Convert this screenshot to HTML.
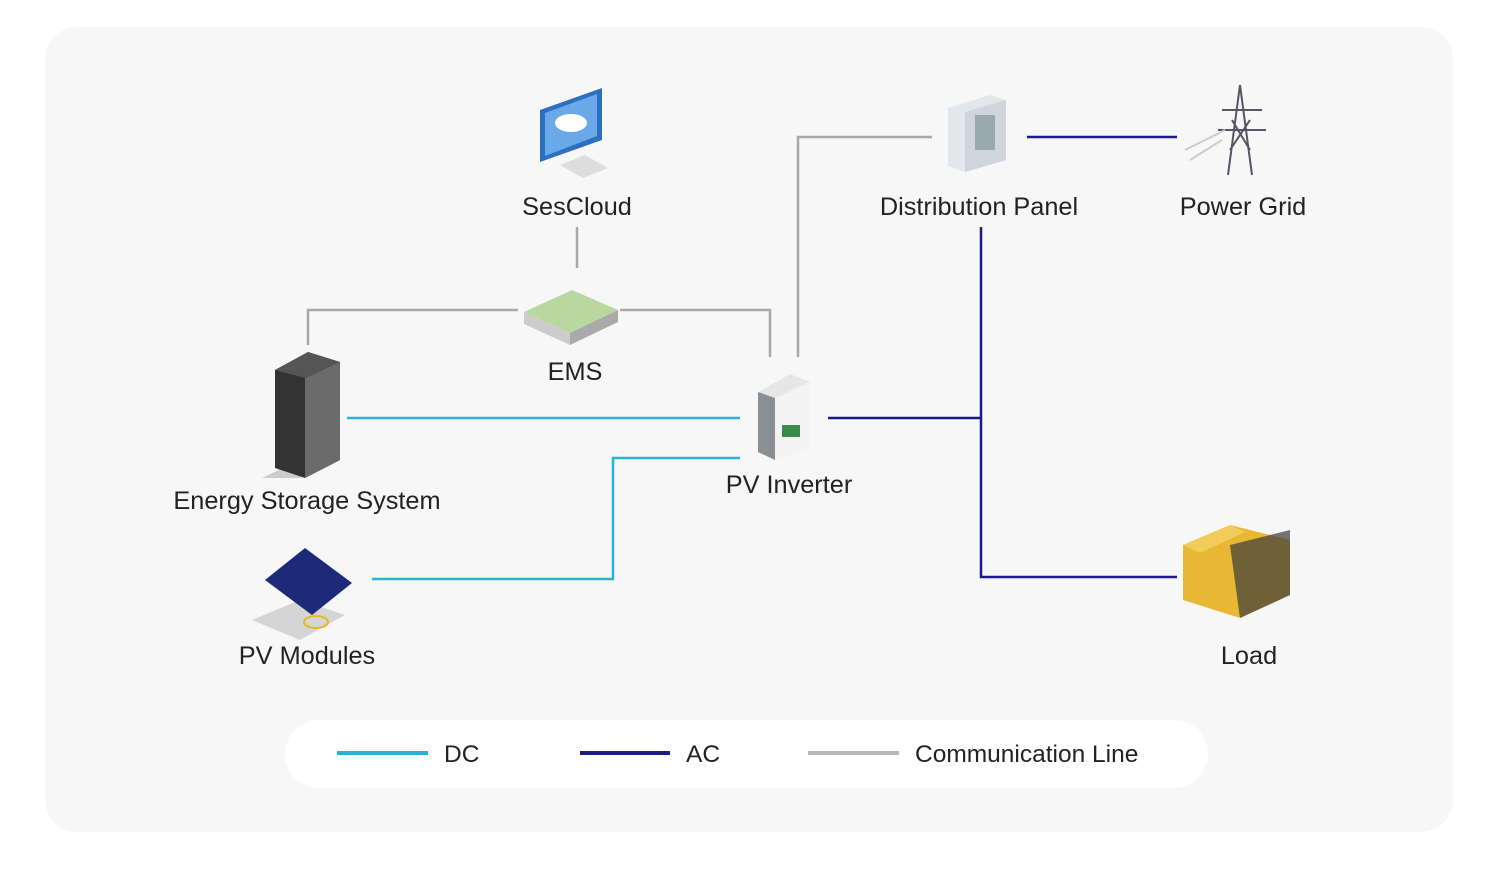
<!DOCTYPE html>
<html><head><meta charset="utf-8"><style>
body{margin:0;background:#fff;width:1500px;height:888px;overflow:hidden;font-family:"Liberation Sans",sans-serif}
svg text{font-family:"Liberation Sans",sans-serif;font-size:25.3px;fill:#222}
svg text.lg{font-size:24.5px}
</style></head><body>
<svg width="1500" height="888" viewBox="0 0 1500 888">
<rect x="45" y="27" width="1408" height="805" rx="32" fill="#f7f7f7"/>
<rect x="285" y="720" width="923" height="68" rx="34" fill="#fff"/>
<g fill="none" stroke-width="2.5">
<g stroke="#a8a8a8">
<path d="M577 227V268"/>
<path d="M518 310H308V345"/>
<path d="M620 310H770V357"/>
<path d="M932 137H798V357"/>
</g>
<g stroke="#1c1a8a">
<path d="M1027 137H1177"/>
<path d="M981 227V577H1177"/>
<path d="M828 418H981"/>
</g>
<g stroke="#2ab4d4">
<path d="M347 418H740"/>
<path d="M740 458H613V579H372"/>
</g>
<path d="M337 753H428" stroke="#2ab4d4" stroke-width="4"/>
<path d="M580 753H670" stroke="#1c1a8a" stroke-width="4"/>
<path d="M808 753H899" stroke="#b8b8b8" stroke-width="4"/>
</g>
<g>
<polygon points="540,110 602,88 602,140 540,162" fill="#2d6fc0"/>
<polygon points="545,113 597,94 597,136 545,156" fill="#6aa8e8"/>
<ellipse cx="571" cy="123" rx="16" ry="9" fill="#fff"/>
<polygon points="560,165 585,155 608,168 583,178" fill="#ddd"/>
</g>
<g>
<polygon points="524,312 572,290 618,310 570,333" fill="#b9d8a0"/>
<polygon points="524,312 570,333 570,345 524,324" fill="#ccc"/>
<polygon points="570,333 618,310 618,322 570,345" fill="#aaa"/>
</g>
<g>
<polygon points="948,108 990,95 1006,100 1006,160 965,172 948,166" fill="#e4e7ea"/>
<polygon points="965,112 1006,100 1006,160 965,172" fill="#cfd5da"/>
<rect x="975" y="115" width="20" height="35" fill="#9aa"/>
</g>
<g stroke="#556" stroke-width="2" fill="none">
<path d="M1240 85L1228 175M1240 85L1252 175M1222 110H1262M1218 130H1266M1230 150L1250 120M1232 120L1250 150"/>
<path d="M1185 150L1225 130M1190 160L1222 140" stroke="#ccc"/>
</g>
<g>
<polygon points="262,478 300,478 340,460 300,460" fill="#ccc"/>
<polygon points="275,370 308,352 340,362 340,460 305,478 275,468" fill="#333"/>
<polygon points="305,378 340,362 340,460 305,478" fill="#6b6b6b"/>
<polygon points="275,370 308,352 340,362 305,378" fill="#555"/>
</g>
<g>
<polygon points="758,392 790,374 810,382 810,448 775,460 758,452" fill="#e6e6e6"/>
<polygon points="775,398 810,382 810,448 775,460" fill="#f4f4f4"/>
<polygon points="758,392 775,398 775,460 758,452" fill="#8a8f94"/>
<rect x="782" y="425" width="18" height="12" fill="#3a8a4a"/>
</g>
<g>
<polygon points="252,620 300,600 345,615 300,640" fill="#d5d5d5"/>
<polygon points="265,580 305,548 352,583 312,615" fill="#1d2a7a"/>
<ellipse cx="316" cy="622" rx="12" ry="6" fill="none" stroke="#e8b820" stroke-width="2"/>
</g>
<g>
<polygon points="1183,545 1230,525 1290,540 1290,595 1240,618 1183,600" fill="#e8b834"/>
<polygon points="1230,545 1290,530 1290,595 1240,618" fill="#3a3a3a" opacity="0.7"/>
<polygon points="1183,545 1230,525 1245,532 1200,553" fill="#f2cc5a"/>
</g>
<g text-anchor="middle">
<text x="577" y="215">SesCloud</text>
<text x="979" y="215">Distribution Panel</text>
<text x="1243" y="215">Power Grid</text>
<text x="575" y="380">EMS</text>
<text x="307" y="509">Energy Storage System</text>
<text x="789" y="493">PV Inverter</text>
<text x="307" y="664">PV Modules</text>
<text x="1249" y="664">Load</text>
</g>
<text class="lg" x="444" y="762">DC</text>
<text class="lg" x="686" y="762">AC</text>
<text class="lg" x="915" y="762">Communication Line</text>
</svg>
</body></html>
